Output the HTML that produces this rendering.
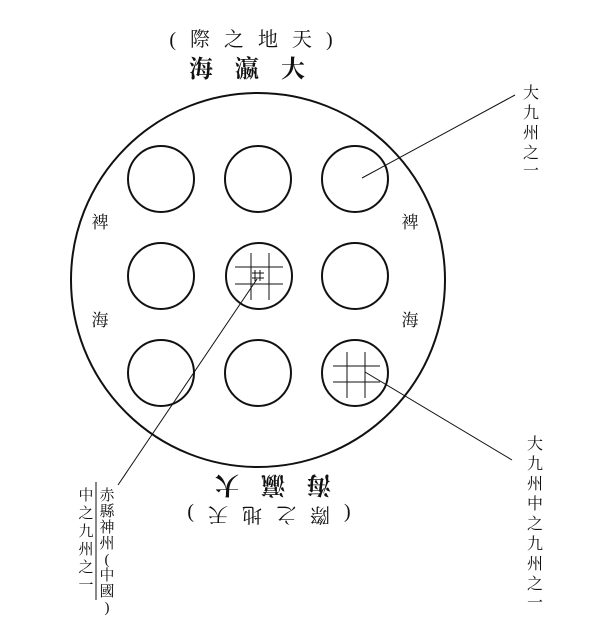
<!DOCTYPE html>
<html><head><meta charset="utf-8"><style>
html,body{margin:0;padding:0;background:#fff;}
svg{display:block;}
text{font-family:"Liberation Serif","Noto Serif CJK SC","Noto Sans CJK TC",serif;fill:#111;}
</style></head><body>
<svg width="600" height="627" viewBox="0 0 600 627" xmlns="http://www.w3.org/2000/svg">
<g stroke="#111" fill="none">
<circle cx="258" cy="280" r="187" stroke-width="2"/>
<g stroke-width="2">
<circle cx="161" cy="179" r="33"/><circle cx="258" cy="179" r="33"/><circle cx="355" cy="179" r="33"/>
<circle cx="161" cy="276" r="33"/><circle cx="259" cy="276" r="33"/><circle cx="355" cy="276" r="33"/>
<circle cx="161" cy="373" r="33"/><circle cx="258" cy="373" r="33"/><circle cx="355" cy="373" r="33"/>
</g>
<g stroke-width="1">
<line x1="251" y1="253" x2="251" y2="300"/><line x1="269" y1="253" x2="269" y2="300"/>
<line x1="235" y1="267" x2="283" y2="267"/><line x1="235" y1="284" x2="283" y2="284"/>
<line x1="255" y1="270" x2="255" y2="281"/><line x1="260" y1="270" x2="260" y2="281"/>
<line x1="252" y1="273" x2="264" y2="273"/><line x1="252" y1="278" x2="264" y2="278"/>
<line x1="347" y1="352" x2="347" y2="398"/><line x1="365" y1="352" x2="365" y2="398"/>
<line x1="333" y1="366" x2="380" y2="366"/><line x1="333" y1="382" x2="380" y2="382"/>
<line x1="257" y1="279" x2="118" y2="485"/>
<line x1="365" y1="372" x2="512" y2="460"/>
<line x1="362" y1="178" x2="515" y2="95"/>
<line x1="96" y1="482" x2="96" y2="600"/>
</g>
</g>
<text x="258" y="46" font-size="20" text-anchor="middle" letter-spacing="14">(際之地天)</text>
<text x="258" y="77" font-size="24" font-weight="bold" text-anchor="middle" letter-spacing="22">海瀛大</text>
<g transform="rotate(180 262 503)">
<text x="262" y="498" font-size="20" text-anchor="middle" letter-spacing="14">(際之地天)</text>
<text x="262" y="529" font-size="24" font-weight="bold" text-anchor="middle" letter-spacing="22">海瀛大</text>
</g>
<g font-size="17" text-anchor="middle">
<text x="100" y="228">裨</text><text x="410" y="228">裨</text>
<text x="100" y="326">海</text><text x="410" y="326">海</text>
</g>
<g font-size="16" text-anchor="middle">
<text x="531" y="98">大</text><text x="531" y="118">九</text><text x="531" y="138">州</text><text x="531" y="158">之</text><text x="531" y="176">一</text>
<text x="535" y="449">大</text><text x="535" y="469">九</text><text x="535" y="489">州</text><text x="535" y="509">中</text><text x="535" y="529">之</text><text x="535" y="549">九</text><text x="535" y="569">州</text><text x="535" y="589">之</text><text x="535" y="608">一</text>
</g>
<g font-size="15" text-anchor="middle">
<text x="107" y="500">赤</text><text x="107" y="516">縣</text><text x="107" y="532">神</text><text x="107" y="548">州</text><text x="107" y="564">(</text><text x="107" y="580">中</text><text x="107" y="596">國</text><text x="107" y="612">)</text>
<text x="86" y="500">中</text><text x="86" y="518">之</text><text x="86" y="536">九</text><text x="86" y="554">州</text><text x="86" y="572">之</text><text x="86" y="590">一</text>
</g>
</svg>
</body></html>
